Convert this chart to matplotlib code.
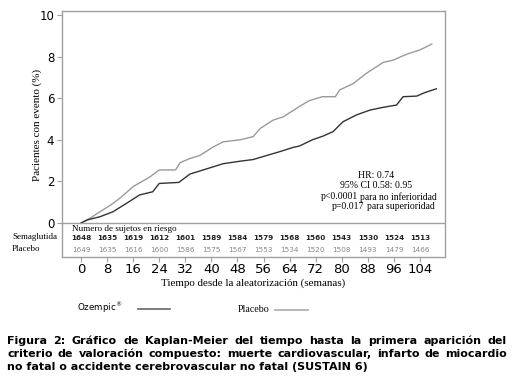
import numpy as np
import matplotlib.pyplot as plt

# curvas Kaplan-Meier (semanas, % con evento)
sema_wk = [0, 2, 5.8, 9.8, 14, 18, 22, 24, 30, 33.4, 38.5, 43.6, 48.8, 52.8, 56, 61,
           65, 67, 71, 74.3, 77.3, 80.4, 84.6, 88.7, 92.7, 96.8, 98.8, 103, 105.5, 109]
sema_pct = [0, 0.15, 0.3, 0.54, 0.95, 1.35, 1.5, 1.9, 1.95, 2.35, 2.6, 2.85, 2.97, 3.05, 3.2, 3.43,
            3.63, 3.7, 4.0, 4.18, 4.39, 4.87, 5.2, 5.43, 5.56, 5.67, 6.07, 6.1, 6.27, 6.45]
plac_wk = [0, 3, 5.8, 9, 12, 16, 21, 24, 29, 30.4, 33.4, 36.5, 40.5, 43.6, 48.8, 52.8, 55,
           59, 62, 67, 70, 74, 78, 79.4, 83.5, 87.6, 92.7, 95.8, 100, 104, 107.6]
plac_pct = [0, 0.25, 0.54, 0.85, 1.2, 1.75, 2.2, 2.55, 2.55, 2.9, 3.1, 3.25, 3.65, 3.9, 4.0, 4.15, 4.55,
            4.95, 5.1, 5.6, 5.88, 6.07, 6.07, 6.4, 6.7, 7.2, 7.72, 7.83, 8.12, 8.32, 8.6]

# sujetos en riesgo
risk_wk = [0, 8, 16, 24, 32, 40, 48, 56, 64, 72, 80, 88, 96, 104]
risk_sema = [1648, 1635, 1619, 1612, 1601, 1589, 1584, 1579, 1568, 1560, 1543, 1530, 1524, 1513]
risk_plac = [1649, 1635, 1616, 1600, 1586, 1575, 1567, 1553, 1534, 1520, 1508, 1493, 1479, 1466]

dark = '#333333'
light = '#9a9a9a'
edge = '#a0a0a0'
serif = 'Liberation Serif'
W, H = 519, 386

fig = plt.figure(figsize=(5.19, 3.86), dpi=100)
ax = fig.add_axes([62 / W, 1 - 257 / H, 383 / W, 246 / H])

ax.plot(plac_wk, plac_pct, color=light, lw=1.0)
ax.plot(sema_wk, sema_pct, color=dark, lw=1.0)
ax.axhline(0, color=edge, lw=1.0)

ax.set_xlim(-5.83, 111.66)
ax.set_ylim(-1.635, 10.19)
ax.set_yticks([0, 2, 4, 6, 8, 10])
ax.set_xticks(risk_wk)
for s in ax.spines.values():
    s.set_color(edge)
    s.set_linewidth(1.0)
ax.tick_params(colors=edge, labelcolor='black', length=3.5, width=0.8)
ax.tick_params(axis='x', labelsize=9.5, pad=1)
ax.tick_params(axis='y', labelsize=8.5, pad=2)

ax.set_xlabel('Tiempo desde la aleatorización (semanas)', family=serif, fontsize=7.9)
ax.xaxis.set_label_coords((253 - 62) / 383, -(283 - 257) / 246)
ax.set_ylabel('Pacientes con evento (%)', family=serif, fontsize=8)
ax.yaxis.set_label_coords(-(62 - 37) / 383, (257 - 125) / 246)
ax.xaxis.label.set_va('center')
ax.yaxis.label.set_va('center')

# tabla de sujetos en riesgo
ax.text(-2.8, -0.3, 'Numero de sujetos en riesgo', family=serif, fontsize=6.6, va='center')
for w, a, b in zip(risk_wk, risk_sema, risk_plac):
    ax.text(w, -0.72, str(a), ha='center', va='center', fontsize=5.2, fontweight='bold', color='#222222')
    ax.text(w, -1.3, str(b), ha='center', va='center', fontsize=5.2, color='#888888')
fig.text(12 / W, 1 - 237 / H, 'Semaglutida', family=serif, fontsize=6.5, va='center')
fig.text(12 / W, 1 - 249 / H, 'Placebo', family=serif, fontsize=6.5, va='center')

# estadisticos
ax.text(90.5, 2.3, 'HR: 0.74', family=serif, fontsize=7, ha='center', va='center')
ax.text(90.5, 1.8, '95% CI 0.58: 0.95', family=serif, fontsize=7, ha='center', va='center')
ax.text(73.5, 1.25, 'p<0.0001', family=serif, fontsize=7, va='center')
ax.text(85.6, 1.25, 'para no inferioridad', family=serif, fontsize=6.9, va='center')
ax.text(77, 0.77, 'p=0.017', family=serif, fontsize=7, va='center')
ax.text(87.7, 0.77, 'para superioridad', family=serif, fontsize=6.9, va='center')

# leyenda
fig.text(77 / W, 1 - 308 / H, 'Ozempic$^{®}$', fontsize=6.3, va='center')
fig.add_artist(plt.Line2D([138 / W, 170 / W], [1 - 309 / H] * 2, color='#666666', lw=1.2))
fig.text(238 / W, 1 - 310 / H, 'Placebo', family=serif, fontsize=7.2, va='center')
fig.add_artist(plt.Line2D([275 / W, 308 / W], [1 - 310 / H] * 2, color='#aaaaaa', lw=1.2))

# pie de figura justificado
caption = ['Figura 2: Gráfico de Kaplan-Meier del tiempo hasta la primera aparición del',
           'criterio de valoración compuesto: muerte cardiovascular, infarto de miocardio',
           'no fatal o accidente cerebrovascular no fatal (SUSTAIN 6)']
cap_y = [344, 357, 370]
cap_size = 8.0
x0, x1 = 7, 507
r = fig.canvas.get_renderer()
for i, line in enumerate(caption):
    y = 1 - cap_y[i] / H
    if i == len(caption) - 1:
        fig.text(x0 / W, y, line, fontsize=cap_size, fontweight='bold', va='baseline')
        continue
    words = line.split(' ')
    arts = [fig.text(0, y, wd, fontsize=cap_size, fontweight='bold', va='baseline') for wd in words]
    widths = [a.get_window_extent(r).width for a in arts]
    gap = (x1 - x0 - sum(widths)) / (len(words) - 1)
    x = x0
    for a, wd in zip(arts, widths):
        a.set_x(x / W)
        x += wd + gap

fig.savefig('out.png', dpi=100)
